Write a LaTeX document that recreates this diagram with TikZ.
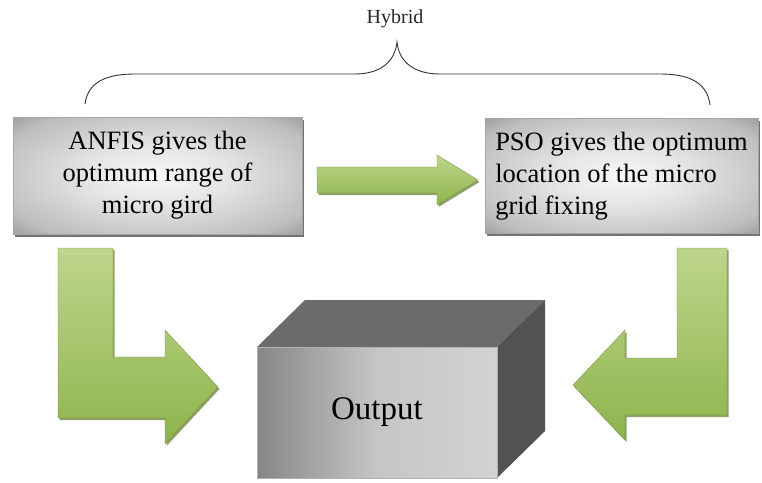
\documentclass[tikz,border=0pt]{standalone}
\usepackage{fontspec}
\setmainfont{Liberation Serif}
\newfontfamily\timesfam{Liberation Serif}
\usetikzlibrary{shadows}
\pgfdeclareradialshading{boxshade}{\pgfpoint{0bp}{0bp}}{color(0bp)=(gray!5); color(12bp)=(gray!20); color(30bp)=(gray!52); color(46bp)=(black!62); color(80bp)=(black!66)}
\definecolor{glight}{RGB}{190,213,140}
\definecolor{gdark}{RGB}{142,180,76}
\definecolor{gshadow}{RGB}{95,120,45}
\tikzset{
  infobox/.style={shading=boxshade, draw=gray!70, line width=0.4pt,
    drop shadow={shadow xshift=2pt, shadow yshift=-2.5pt, fill=black, opacity=0.55},
    inner sep=0pt, font=\timesfam\fontsize{26.5}{32}\selectfont, text=black},
  garrow/.style={top color=glight, bottom color=gdark, draw=gdark!80!black, line width=0.3pt,
    drop shadow={shadow xshift=1.5pt, shadow yshift=-2pt, fill=gshadow, opacity=0.7}},
  bracestyle/.style={draw=black!80, line width=0.9pt},
}
\begin{document}
\begin{tikzpicture}[x=1pt,y=-1pt]
\useasboundingbox (0,0) rectangle (762,482);
% Hybrid label and brace
\node[font=\timesfam\fontsize{20}{24}\selectfont, text=black!85] (hyb) at (395,19) {Hybrid};
\coordinate (bl) at (85,104);
\coordinate (br) at (710,105);
\coordinate (bp) at (397,42);
\path[bracestyle] (bl) .. controls (88,80) and (110,74) .. (135,74) -- (355,74)
  .. controls (380,74) and (395,62) .. (bp)
  .. controls (399,62) and (414,74) .. (440,74) -- (660,74)
  .. controls (685,74) and (707,80) .. (br);
% boxes
\node[infobox, minimum width=289pt, minimum height=117pt, align=center] (anfis) at (157.5,175.5)
  {ANFIS gives the\\optimum range of\\micro gird};
\node[infobox, minimum width=273pt, minimum height=115pt, align=left] (pso) at (621.5,176)
  {PSO gives the optimum\\location of the micro\\grid fixing};
% middle arrow
\path[garrow] (317,167) -- (437,167) -- (437,155) -- (478,180) -- (437,205) -- (437,193) -- (317,193) -- cycle;
% left L arrow
\path[garrow] (58,248) -- (113,248) -- (113,357) -- (165,357) -- (165,330) -- (218,387)
  -- (165,444) -- (165,418) -- (58,418) -- cycle;
% right L arrow
\path[garrow] (677,248) -- (727,248) -- (727,415) -- (625,415) -- (625,440) -- (573,385)
  -- (625,330) -- (625,358) -- (677,358) -- cycle;
% output cube
\fill[black!58] (257,347) -- (305,300) -- (545,300) -- (497,347) -- cycle;
\fill[black!68] (497,347) -- (545,300) -- (545,431) -- (497,478) -- cycle;
\node[left color=gray!95, right color=gray!35, middle color=gray!45, draw=gray!60, line width=0.4pt,
  minimum width=240pt, minimum height=131pt, inner sep=0pt,
  font=\timesfam\fontsize{33}{38}\selectfont, text=black] (out) at (377,412.5) {Output};
\end{tikzpicture}
\end{document}
